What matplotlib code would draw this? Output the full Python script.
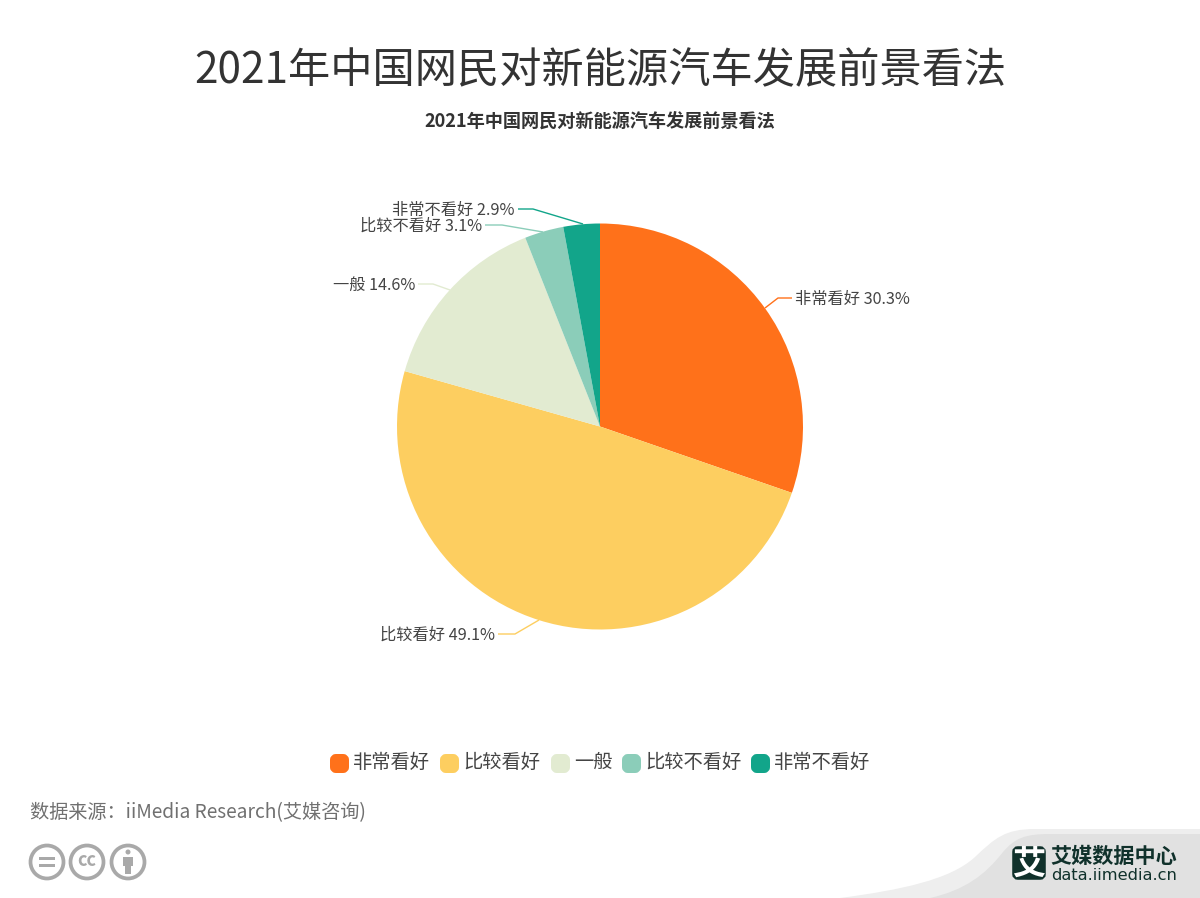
import matplotlib
matplotlib.use('Agg')
import matplotlib.pyplot as plt
from matplotlib.patches import Circle, FancyBboxPatch, PathPatch, Rectangle
from matplotlib.path import Path

plt.rcParams['font.family'] = ['Noto Sans CJK SC', 'DejaVu Sans']

title = "2021年中国网民对新能源汽车发展前景看法"
categories = ["非常看好", "比较看好", "一般", "比较不看好", "非常不看好"]
values = [30.3, 49.1, 14.6, 3.1, 2.9]
colors = ["#FF711A", "#FDCE60", "#E2EBD1", "#8BCDB9", "#12A58A"]
source = "数据来源：iiMedia Research(艾媒咨询)"

# pixel layout of the page, y measured from the top
H = 898
cx, cy, radius = 600, 426.5, 203
leaders = [
    [(765, 308), (778, 298), (792, 298)],
    [(539, 620), (515, 634), (498, 634)],
    [(450, 290), (433, 284), (418, 284)],
    [(543, 232), (502, 225), (485, 225)],
    [(583, 224), (533, 209), (518, 209)],
]
legend_x = [330, 440, 551, 622, 751]


def py(y):
    return H - y


fig = plt.figure(figsize=(12, 8.98), dpi=100)
ax = fig.add_axes([0, 0, 1, 1])

# pie
ax.pie(values, colors=colors, startangle=90, counterclock=False,
       center=(cx, py(cy)), radius=radius)
ax.set_xlim(0, 1200)
ax.set_ylim(0, H)
ax.set_aspect('auto')
ax.axis('off')

# titles
ax.text(600, py(71), title, fontsize=30.4, color="#333333", ha='center', va='center')
ax.text(600, py(122), title, fontsize=13.1, color="#333333", weight='bold', ha='center', va='center')

# slice labels and leader lines
for cat, val, col, pts in zip(categories, values, colors, leaders):
    xs = [p[0] for p in pts]
    ys = [py(p[1]) for p in pts]
    ax.plot(xs, ys, color=col, lw=1, solid_capstyle='butt')
    right = xs[-1] > xs[0]
    ax.text(xs[-1] + (3 if right else -3), ys[-1] - 1, f"{cat} {val}%", fontsize=11.7,
            color="#444444", ha='left' if right else 'right', va='center')

# legend
for x, cat, col in zip(legend_x, categories, colors):
    ax.add_patch(FancyBboxPatch((x + 3, py(770)), 13, 13, boxstyle="round,pad=0,rounding_size=3",
                                mutation_aspect=1, fc=col, ec=col, lw=6 * 0.72, joinstyle='round'))
    ax.text(x + 23, py(762), cat, fontsize=13.9, color="#444444", ha='left', va='center')

# source
ax.text(30, py(813), source, fontsize=13.8, color="#707070", ha='left', va='center')

# cc icons
grey = "#A9A9A9"
for x in [47, 87, 128]:
    ax.add_patch(Circle((x, py(862)), 16.5, fc='white', ec=grey, lw=2.7))
ax.add_patch(Rectangle((39, py(860)), 16, 3, fc=grey, ec='none'))
ax.add_patch(Rectangle((39, py(867)), 16, 3, fc=grey, ec='none'))
ax.text(87, py(861), "cc", fontsize=13, color=grey, weight='bold', ha='center', va='center')
ax.add_patch(Circle((128, py(852)), 2.5, fc=grey, ec='none'))
ax.add_patch(Rectangle((123, py(866)), 10, 9, fc=grey, ec='none'))
ax.add_patch(Rectangle((125, py(874)), 6, 9, fc=grey, ec='none'))

# footer swoosh and logo
codes = [Path.MOVETO, Path.CURVE4, Path.CURVE4, Path.CURVE4,
         Path.CURVE4, Path.CURVE4, Path.CURVE4,
         Path.LINETO, Path.LINETO, Path.CLOSEPOLY]
light = Path([(840, py(898)), (900, py(890)), (950, py(880)), (975, py(857)),
              (995, py(838)), (1005, py(829)), (1035, py(829)),
              (1200, py(829)), (1200, py(898)), (840, py(898))], codes)
ax.add_patch(PathPatch(light, fc="#EEEEEE", ec='none'))
dark = Path([(930, py(898)), (965, py(890)), (985, py(875)), (1003, py(852)),
             (1015, py(838)), (1025, py(834)), (1050, py(834)),
             (1200, py(834)), (1200, py(898)), (930, py(898))], codes)
ax.add_patch(PathPatch(dark, fc="#E1E1E1", ec='none'))

logo_col = "#10312B"
ax.add_patch(FancyBboxPatch((1015, py(877)), 28, 28, boxstyle="round,pad=0,rounding_size=3",
                            fc=logo_col, ec=logo_col, lw=4))
ax.text(1029, py(864), "艾", fontsize=24, color='white', weight='bold', ha='center', va='center')
ax.text(1050, py(856), "艾媒数据中心", fontsize=15.2, color=logo_col, weight='bold', ha='left', va='center')
ax.text(1051, py(875), "data.iimedia.cn", fontsize=11.7, color=logo_col, ha='left', va='center',
        family=['DejaVu Sans'])

fig.savefig("out.png", dpi=100)
